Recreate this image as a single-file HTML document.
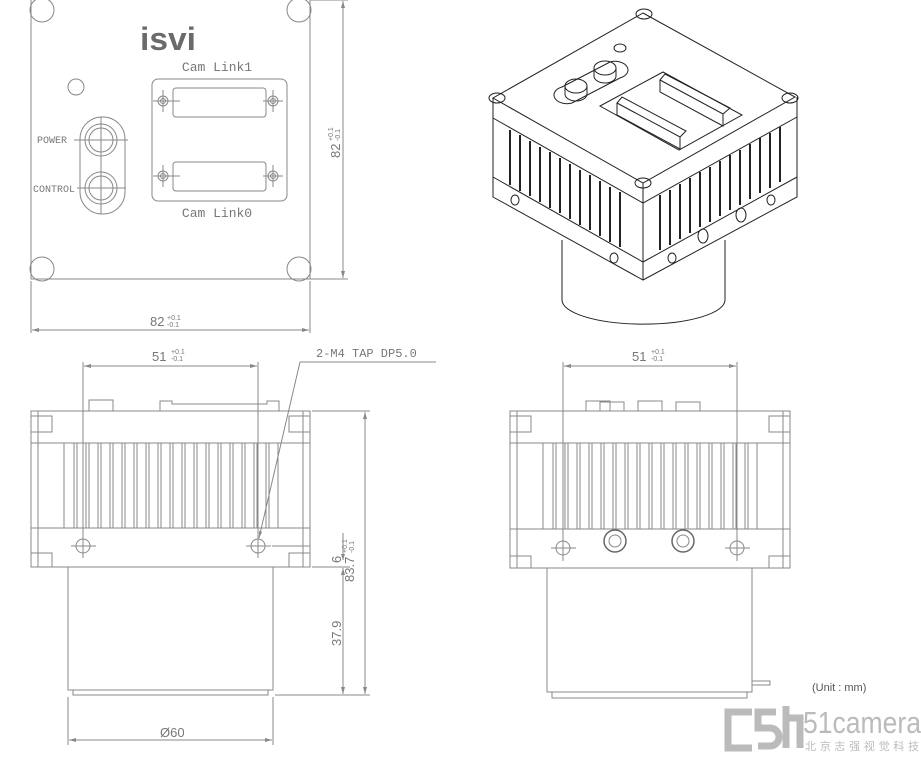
<!DOCTYPE html>
<html><head><meta charset="utf-8"><style>
html,body{margin:0;padding:0;background:#fff}
svg{display:block}
text{font-family:"Liberation Sans",sans-serif;fill:#777}
.m{font-family:"Liberation Mono",monospace}
</style></head><body>
<svg width="921" height="759" viewBox="0 0 921 759" xmlns="http://www.w3.org/2000/svg">
<g fill="none" stroke="#888" stroke-width="1">
<path d="M31 0 V279 H310 V0"/>
<circle cx="42" cy="10" r="12"/><circle cx="299" cy="10" r="12"/>
<circle cx="42" cy="269" r="12"/><circle cx="299" cy="269" r="12"/>
<circle cx="76" cy="87" r="8"/>
<rect x="80" y="117" width="45" height="97" rx="22"/>
<circle cx="101" cy="140" r="16"/><circle cx="101" cy="140" r="12"/>
<circle cx="101" cy="188" r="16"/><circle cx="101" cy="188" r="12"/>
<path d="M101 117 V214 M74 140 H128 M77 188 H126"/>
<rect x="152" y="79" width="135" height="122" rx="6"/>
<rect x="173" y="88" width="93" height="29" rx="3"/>
<rect x="173" y="162" width="93" height="29" rx="3"/>
<circle cx="163" cy="101" r="5"/><circle cx="163" cy="101" r="2.5"/>
<circle cx="273" cy="101" r="5"/><circle cx="273" cy="101" r="2.5"/>
<circle cx="163" cy="176" r="5"/><circle cx="163" cy="176" r="2.5"/>
<circle cx="273" cy="176" r="5"/><circle cx="273" cy="176" r="2.5"/>
<path d="M153 101 H180 M163 90 V112 M263 101 H283 M273 90 V112 M153 176 H180 M163 165 V187 M263 176 H283 M273 165 V187"/>
<path d="M310 0 H348 M310 279 H348 M343 1 V278 M31 281 V333 M310 281 V333 M32 330 H309"/>
<rect x="31" y="411" width="279" height="156"/>
<path d="M31 443 H310 M31 528 H310 M38 411 V567 M303 411 V567"/>
<path d="M31 416 H52 V432 H31 M310 416 H289 V432 H310 M31 553 H52 V567 M310 553 H289 V567"/>
<path d="M64 443V528M74 443V528M77 443V528M86 443V528M89 443V528M98 443V528M101 443V528M110 443V528M113 443V528M122 443V528M125 443V528M134 443V528M137 443V528M146 443V528M149 443V528M158 443V528M161 443V528M170 443V528M173 443V528M182 443V528M185 443V528M194 443V528M197 443V528M206 443V528M209 443V528M218 443V528M221 443V528M230 443V528M233 443V528M242 443V528M245 443V528M254 443V528M257 443V528M266 443V528M269 443V528M278 443V528"/>
<rect x="89" y="400" width="24" height="11"/>
<path d="M160 411 V401 H172 V404 H267 V401 H279 V411"/>
<circle cx="83" cy="546" r="7"/><circle cx="258" cy="546" r="7"/>
<path d="M71 546 H96 M83 534 V558 M246 546 H271 M258 534 V558 M272 546 H310"/>
<rect x="68" y="567" width="205" height="123"/>
<rect x="73" y="690" width="195" height="5"/>
<path d="M83 362 V545 M258 362 V545 M84 366 H257"/>
<path d="M300 362 H436 M300 362 L259 538"/>
<path d="M312 411 H370 M312 567 H350 M275 695 H370 M365 412 V694 M343 568 V694 M343 533 V560"/>
<path d="M68 697 V745 M273 697 V745 M69 740 H272"/>
<rect x="510" y="411" width="280" height="157"/>
<path d="M510 443 H790 M510 529 H790 M517 411 V568 M783 411 V568"/>
<path d="M510 416 H531 V432 H510 M790 416 H769 V432 H790 M510 556 H531 V568 M790 556 H769 V568"/>
<path d="M543 443V529M553 443V529M556 443V529M565 443V529M568 443V529M577 443V529M580 443V529M589 443V529M592 443V529M601 443V529M604 443V529M613 443V529M616 443V529M625 443V529M628 443V529M637 443V529M640 443V529M649 443V529M652 443V529M661 443V529M664 443V529M673 443V529M676 443V529M685 443V529M688 443V529M697 443V529M700 443V529M709 443V529M712 443V529M721 443V529M724 443V529M733 443V529M736 443V529M745 443V529M748 443V529M757 443V529"/>
<rect x="586" y="401" width="24" height="10"/><rect x="600" y="402" width="24" height="9"/>
<rect x="638" y="401" width="24" height="10"/><rect x="676" y="402" width="24" height="9"/>
<circle cx="563" cy="548" r="7"/><circle cx="737" cy="548" r="7"/>
<path d="M551 548 H576 M563 536 V561 M725 548 H750 M737 536 V561"/>
<circle cx="615" cy="541" r="11" stroke="#666" stroke-width="1.5"/><circle cx="615" cy="541" r="6"/>
<circle cx="683" cy="541" r="11" stroke="#666" stroke-width="1.5"/><circle cx="683" cy="541" r="6"/>
<rect x="547" y="568" width="205" height="124"/>
<rect x="552" y="692" width="195" height="6"/>
<path d="M752 681 H770 V685 H752"/>
<path d="M563 362 V547 M737 362 V547 M564 366 H736"/>
</g>
<g fill="#888">
<path d="M343 1 l-2 7 h4z M343 278 l-2 -7 h4z M32 330 l7 -2 v4z M309 330 l-7 -2 v4z"/>
<path d="M84 366 l7 -2 v4z M257 366 l-7 -2 v4z M564 366 l7 -2 v4z M736 366 l-7 -2 v4z"/>
<path d="M365 412 l-2 7 h4z M365 694 l-2 -7 h4z M343 568 l-2 7 h4z M343 694 l-2 -7 h4z M343 560 l-2 -6 h4z"/>
<path d="M69 740 l7 -2 v4z M272 740 l-7 -2 v4z M259 538 l0 -7 l3 1z"/>
</g>
<g fill="none" stroke="#222" stroke-width="1">
<path d="M643 13 L493 98 L643 183 L795 97 Z"/>
<path d="M493 98 V197 L643 280 L797 197 V97"/>
<path d="M643 183 V280"/>
<path d="M493 118 L643 203 L797 117 M493 177 L643 262 L797 177"/>
<path d="M510 130V185M520 135V191M530 141V196M540 147V202M550 152V208M560 158V213M570 164V219M580 170V225M590 175V230M600 181V236M610 187V242M620 192V247" stroke-width="2"/>
<path d="M660 195V250M670 190V245M680 184V239M690 178V233M700 172V227M710 167V222M720 161V216M730 155V210M740 150V205M750 144V199M760 138V193M770 133V188M780 127V182" stroke-width="2"/>
<path d="M562 240 V300 A81 24 0 0 0 725 300 V240"/>
<ellipse cx="644" cy="14" rx="8" ry="5"/><ellipse cx="497" cy="98" rx="8" ry="5"/>
<ellipse cx="790" cy="98" rx="8" ry="5"/><ellipse cx="643" cy="183" rx="8" ry="5"/>
<ellipse cx="620" cy="48" rx="6" ry="4"/>
<path d="M562 87 L610 62 A12 8 0 0 1 620 78 L572 103 A12 8 0 0 1 562 87Z"/>
<ellipse cx="576" cy="86" rx="11" ry="7"/><path d="M565 86 V94 A11 7 0 0 0 587 94 V86"/>
<ellipse cx="605" cy="68" rx="11" ry="7"/><path d="M594 68 V76 A11 7 0 0 0 616 76 V68"/>
<path d="M600 106 L663 72 L742 115 L679 150 Z"/>
<path d="M617 103 L680 137 L686 131 L622 97 Z M617 103 V115 L680 149 V137"/>
<path d="M660 80 L723 114 L730 108 L665 74 Z M660 80 V92 L723 126 V114"/>
<ellipse cx="515" cy="200" rx="4" ry="5"/><ellipse cx="614" cy="258" rx="4" ry="5"/>
<ellipse cx="672" cy="258" rx="4" ry="5"/><ellipse cx="771" cy="200" rx="4" ry="5"/>
<ellipse cx="703" cy="236" rx="5" ry="7"/><ellipse cx="741" cy="215" rx="5" ry="7"/>
</g>
<text x="140" y="50" font-size="32" font-weight="bold" style="fill:#6a6a6a" textLength="56" lengthAdjust="spacingAndGlyphs">isvi</text>
<text class="m" x="217" y="71" font-size="13" text-anchor="middle">Cam Link1</text>
<text class="m" x="217" y="217" font-size="13" text-anchor="middle">Cam Link0</text>
<text class="m" x="37" y="143" font-size="10">POWER</text>
<text class="m" x="33" y="192" font-size="10">CONTROL</text>
<text x="150" y="326" font-size="13">82</text>
<text x="167" y="320" font-size="7">+0.1</text><text x="167" y="327" font-size="7">-0.1</text>
<g transform="translate(340,158) rotate(-90)"><text font-size="13">82</text><text x="17" y="-7" font-size="7">+0.1</text><text x="17" y="0" font-size="7">-0.1</text></g>
<text x="152" y="361" font-size="13">51</text>
<text x="171" y="354" font-size="7">+0.1</text><text x="171" y="361" font-size="7">-0.1</text>
<text class="m" x="316" y="357" font-size="12">2-M4 TAP DP5.0</text>
<text x="632" y="361" font-size="13">51</text>
<text x="651" y="354" font-size="7">+0.1</text><text x="651" y="361" font-size="7">-0.1</text>
<g transform="translate(354,582) rotate(-90)"><text font-size="13">83.7</text><text x="29" y="-7" font-size="7">+0.1</text><text x="29" y="0" font-size="7">-0.1</text></g>
<g transform="translate(341,563) rotate(-90)"><text font-size="13">6</text></g>
<g transform="translate(341,646) rotate(-90)"><text font-size="13">37.9</text></g>
<text x="160" y="737" font-size="13">Ø60</text>
<text x="812" y="691" font-size="11" style="fill:#555">(Unit : mm)</text>
<g fill="none" stroke="#bbb" stroke-width="7">
<path d="M752 712 H728 V748 H752"/><path d="M776 712 H758 V728 H770 A9 9 0 0 1 770 746 H758"/><path d="M786 706 V748 M786 718 H800 V748"/>
</g>
<text x="803" y="733" font-size="31" style="fill:#bbb" textLength="118" lengthAdjust="spacingAndGlyphs">51camera</text>
<text x="805" y="750" font-size="11" style="fill:#bbb;font-family:'Liberation Sans','Noto Sans CJK SC',sans-serif" textLength="114">北京志强视觉科技</text>
</svg>
</body></html>
